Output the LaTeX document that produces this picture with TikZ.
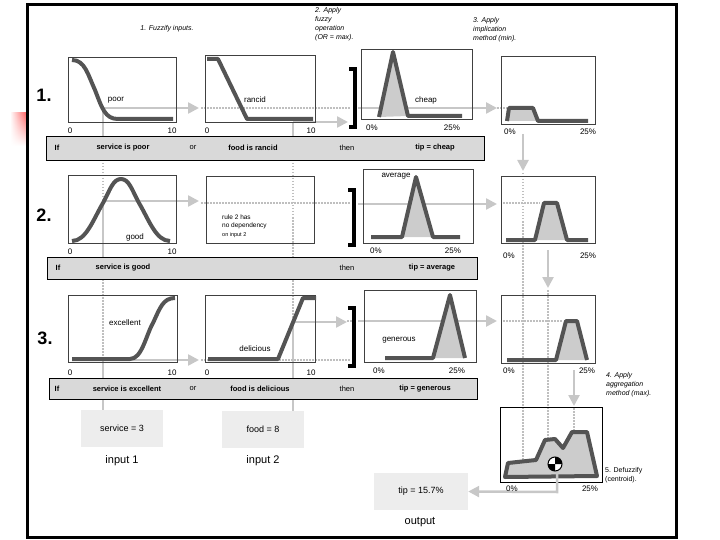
\documentclass[tikz,border=0pt]{standalone}
\usepackage{fontspec}
\setmainfont{Liberation Sans}
\usetikzlibrary{arrows.meta,fadings}

\tikzset{
  mfbox/.style={draw=black!75, line width=0.8pt},
  mfcurve/.style={draw=black!67, line width=4pt, line join=round},
  mffill/.style={fill=black!20},
  gline/.style={draw=black!22, line width=2.5pt},
  garrow/.style={gline, -{Triangle[length=11pt,width=11pt]}},
  dotline/.style={draw=black!25, line width=1.5pt, dash pattern=on 1.5pt off 1.5pt},
  rulebar/.style={draw=black, fill=black!15, line width=0.8pt},
  bracket/.style={draw=black, line width=3.5pt},
  ruletxt/.style={font=\fontsize{7.5}{8}\selectfont\bfseries},
  ticktxt/.style={font=\fontsize{8}{9}\selectfont},
  mflbl/.style={font=\fontsize{8}{9}\selectfont},
  steptxt/.style={font=\fontsize{7}{9}\selectfont\itshape, align=left, anchor=north west, inner sep=0pt},
  rownum/.style={font=\fontsize{18}{20}\selectfont\bfseries},
  iobox/.style={fill=black!7, minimum width=82pt, minimum height=37pt, font=\fontsize{9}{10}\selectfont},
  iolbl/.style={font=\fontsize{11}{12}\selectfont},
}

\begin{document}
\begin{tikzpicture}[x=1pt,y=-1pt]
	\useasboundingbox (0,0) rectangle (720,540);

	% slide mark and frame
	\shade[left color=white, right color=red!60, path fading=south] (10,113) rectangle (26,146);
	\draw[line width=3pt] (27,5) rectangle (676,537);

	% step notes
	\node[steptxt, anchor=center] (step1) at (167,29) {1. Fuzzify inputs.};
	\node[steptxt] (step2) at (315,7) {2. Apply\\fuzzy\\operation\\(OR = max).};
	\node[steptxt] (step3) at (473,17) {3. Apply\\implication\\method (min).};
	\node[steptxt] (step4) at (606,372) {4. Apply\\aggregation\\method (max).};
	\node[steptxt, font=\fontsize{7}{9}\selectfont] (step5) at (605,467) {5. Defuzzify\\(centroid).};

	% row numbers
	\node[rownum] (r1) at (44,95) {1.};
	\node[rownum] (r2) at (44,215) {2.};
	\node[rownum] (r3) at (45,338) {3.};

	% input boxes
	\node[iobox] (svcbox) at (122,428.5) {service = 3};
	\node[iolbl] (in1) at (122,461) {input 1};
	\node[iobox] (foodbox) at (263,429.5) {food = 8};
	\node[iolbl] (in2) at (263,461) {input 2};
	\node[iobox, minimum width=94pt] (tipbox) at (421,491.5) {tip = 15.7\%};
	\node[iolbl] (outlbl) at (420,522) {output};
	\coordinate (svcx) at (103,0);
	\coordinate (foodx) at (293,0);

	% input lines
	\draw[gline] (103,108) -- (103,136);
	\draw[dotline] (103,160) -- (103,201);
	\draw[gline] (103,201) -- (103,257);
	\draw[dotline] (103,279) -- (103,360);
	\draw[gline] (103,360) -- (103,378);
	\draw[gline] (103,399) -- (svcbox.north -| svcx);
	\draw[gline] (293,122) -- (293,136);
	\draw[dotline] (293,160) -- (293,322);
	\draw[gline] (293,322) -- (293,378);
	\draw[gline] (293,399) -- (foodbox.north -| foodx);

	% row 1 arrows
	\draw[garrow] (103,108) -- (199,108);
	\draw[dotline] (201,108) -- (350,108);
	\draw[garrow] (293,122) -- (348,122);
	\draw[garrow] (358,108) -- (497,108);
	\draw[dotline] (497,108) -- (507,108);
	% row 2 arrows
	\draw[garrow] (103,201) -- (199,201);
	\draw[dotline] (201,203) -- (350,203);
	\draw[garrow] (358,204) -- (497,204);
	\draw[dotline] (503,203) -- (540,203);
	% row 3 arrows
	\draw[garrow] (103,360) -- (199,360);
	\draw[dotline] (201,360) -- (350,360);
	\draw[garrow] (293,322) -- (347,322);
	\draw[dotline] (347,321) -- (352,321);
	\draw[garrow] (358,321) -- (497,321);
	\draw[dotline] (503,321) -- (563,321);

	% down the right column
	\draw[dotline] (523,173) -- (523,470);
	\draw[dotline] (548,290) -- (548,470);
	\draw[dotline] (574,408) -- (574,470);
	\draw[garrow] (523,134) -- (523,171);
	\draw[garrow] (548,250) -- (548,288);
	\draw[garrow] (574,370) -- (574,406);

	% brackets
	\draw[bracket] (349,69) -- (355,69) -- (355,127) -- (349,127);
	\draw[bracket] (348,190) -- (354,190) -- (354,245) -- (348,245);
	\draw[bracket] (348,308) -- (354,308) -- (354,366) -- (348,366);

	% row 1 input sets
	\draw[mfbox] (68,57) rectangle (176,122);
	\draw[mfcurve] (72,60) .. controls (85,60) and (88,75) .. (95,90) .. controls (102,108) and (105,119) .. (118,119) -- (173,119);
	\node[mflbl] (poor) at (116,100) {poor};
	\node[ticktxt] (p0) at (70,131) {0};
	\node[ticktxt] (p10) at (172,131) {10};
	\draw[mfbox] (205,55) rectangle (315,122);
	\draw[mfcurve] (207,59) -- (218,59) -- (247,119) -- (313,119);
	\node[mflbl] (rancid) at (255,100) {rancid};
	\node[ticktxt] (r0) at (207,131) {0};
	\node[ticktxt] (r10) at (311,131) {10};

	% row 2 input sets
	\draw[mfbox] (68,175) rectangle (176,243);
	\draw[mfcurve] (72,241) .. controls (86,241) and (93,220) .. (103,203) .. controls (110,190) and (113,179) .. (121,179) .. controls (129,179) and (132,190) .. (139,203) .. controls (149,220) and (156,241) .. (170,241);
	\node[mflbl] (good) at (135,237) {good};
	\node[ticktxt] (g0) at (70,252) {0};
	\node[ticktxt] (g10) at (172,252) {10};
	\draw[mfbox] (206,176) rectangle (314,243);
	\node[align=left, anchor=west, inner sep=0pt, font=\fontsize{6.5}{8.5}\selectfont] (nodep) at (222,226) {rule 2 has\\no dependency\\{\fontsize{5.5}{7}\selectfont on input 2}};

	% row 3 input sets
	\draw[mfbox] (68,295) rectangle (177,362);
	\draw[mfcurve] (72,359) -- (130,359) .. controls (142,359) and (146,335) .. (153,323) .. controls (160,308) and (163,298) .. (175,298);
	\node[mflbl] (excellent) at (125,323) {excellent};
	\node[ticktxt] (e0) at (70,373) {0};
	\node[ticktxt] (e10) at (172,373) {10};
	\draw[mfbox] (205,295) rectangle (315,362);
	\draw[mfcurve] (208,359) -- (278,359) -- (303,298) -- (316,298);
	\node[mflbl] (delicious) at (255,349) {delicious};
	\node[ticktxt] (d0) at (207,373) {0};
	\node[ticktxt] (d10) at (311,373) {10};

	% output sets
	\draw[mfbox] (361,49) rectangle (472,119);
	\fill[mffill] (379,117) -- (393,52) -- (408,116) -- cycle;
	\draw[mfcurve] (379,117) -- (393,52) -- (408,116) -- (462,116);
	\node[mflbl] (cheap) at (426,100) {cheap};
	\node[ticktxt] (c0) at (372,128) {0\%};
	\node[ticktxt] (c25) at (452,128) {25\%};

	\draw[mfbox] (363,169) rectangle (473,243);
	\fill[mffill] (402,237) -- (416,177) -- (433,237) -- cycle;
	\draw[mfcurve] (371,237) -- (402,237) -- (416,177) -- (433,237) -- (460,237);
	\node[mflbl] (average) at (396,176) {average};
	\node[ticktxt] (a0) at (376,251) {0\%};
	\node[ticktxt] (a25) at (453,251) {25\%};

	\draw[mfbox] (364,290) rectangle (476,362);
	\fill[mffill] (433,358) -- (450,295) -- (465,358) -- cycle;
	\draw[mfcurve] (385,358) -- (433,358) -- (450,295) -- (465,358);
	\node[mflbl] (generous) at (399,340) {generous};
	\node[ticktxt] (n0) at (379,371) {0\%};
	\node[ticktxt] (n25) at (457,371) {25\%};

	% implication
	\draw[mfbox] (501,56) rectangle (595,124);
	\fill[mffill] (507,121) -- (509,108) -- (533,108) -- (538,121) -- cycle;
	\draw[mfcurve] (507,121) -- (509,108) -- (533,108) -- (538,121) -- (588,121);
	\node[ticktxt] (i0) at (510,132) {0\%};
	\node[ticktxt] (i25) at (588,132) {25\%};

	\draw[mfbox] (501,176) rectangle (595,243);
	\fill[mffill] (535,240) -- (544,203) -- (557,203) -- (567,240) -- cycle;
	\draw[mfcurve] (506,240) -- (535,240) -- (544,203) -- (557,203) -- (567,240) -- (588,240);
	\node[ticktxt] (j0) at (509,256) {0\%};
	\node[ticktxt] (j25) at (588,256) {25\%};

	\draw[mfbox] (501,295) rectangle (595,363);
	\fill[mffill] (556,360) -- (566,321) -- (577,321) -- (587,360) -- cycle;
	\draw[mfcurve] (507,360) -- (556,360) -- (566,321) -- (577,321) -- (587,360);
	\node[ticktxt] (k0) at (509,371) {0\%};
	\node[ticktxt] (k25) at (587,371) {25\%};

	% aggregation and centroid
	\draw[mfbox, draw=black] (500,407) rectangle (602,482);
	\filldraw[mfcurve, mffill] (505,477) -- (508,463) -- (536,460) -- (545,440) -- (555,439) -- (563,448) -- (572,432) -- (587,432) -- (597,476) -- cycle;
	\draw[gline, -{Triangle[length=11pt,width=11pt]}] (557,471) -- (557,492) -- (tipbox.east);
	\fill[white] (555,464) circle (7);
	\fill[black] (555,464) -- ++(7,0) arc[start angle=0, end angle=-90, radius=7] -- cycle;
	\fill[black] (555,464) -- ++(0,7) arc[start angle=90, end angle=180, radius=7] -- cycle;
	\draw[black, line width=1pt] (555,464) circle (7);
	\node[ticktxt] (s0) at (512,489) {0\%};
	\node[ticktxt] (s25) at (590,489) {25\%};

	% rule bars
	\draw[rulebar] (46,136) rectangle (484,160);
	\node[ruletxt] (if1) at (57,148) {If};
	\node[ruletxt] (ant1a) at (123,148) {service is poor};
	\node[ruletxt, font=\fontsize{7.5}{8}\selectfont] (or1) at (193,148) {or};
	\node[ruletxt] (ant1b) at (253,148) {food is rancid};
	\node[ruletxt, font=\fontsize{7.5}{8}\selectfont] (then1) at (347,148) {then};
	\node[ruletxt] (con1) at (435,148) {tip = cheap};

	\draw[rulebar] (47,257) rectangle (477,279);
	\node[ruletxt] (if2) at (58,268) {If};
	\node[ruletxt] (ant2a) at (123,268) {service is good};
	\node[ruletxt, font=\fontsize{7.5}{8}\selectfont] (then2) at (347,268) {then};
	\node[ruletxt] (con2) at (432,268) {tip = average};

	\draw[rulebar] (49,378) rectangle (477,399);
	\node[ruletxt] (if3) at (57,389) {If};
	\node[ruletxt] (ant3a) at (127,389) {service is excellent};
	\node[ruletxt, font=\fontsize{7.5}{8}\selectfont] (or3) at (193,389) {or};
	\node[ruletxt] (ant3b) at (260,389) {food is delicious};
	\node[ruletxt, font=\fontsize{7.5}{8}\selectfont] (then3) at (347,389) {then};
	\node[ruletxt] (con3) at (425,389) {tip = generous};

\end{tikzpicture}
\end{document}
